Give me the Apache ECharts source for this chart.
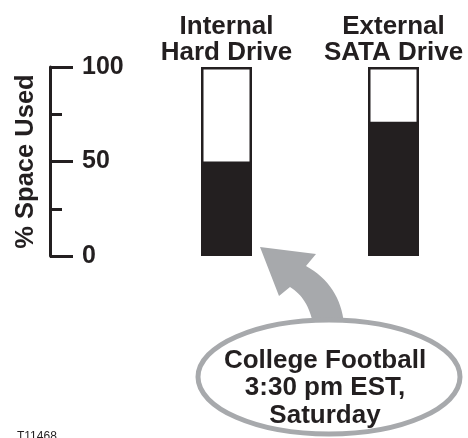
<!DOCTYPE html>
<html>
<head>
<meta charset="utf-8">
<script src="https://cdn.jsdelivr.net/npm/echarts@6/dist/echarts.min.js"></script>
<style>
html,body{margin:0;padding:0;background:#fff;}
#chart{width:468px;height:438px;}
</style>
</head>
<body>
<div id="chart"></div>
<script>
var categories = ['Internal\nHard Drive', 'External\nSATA Drive'];
var capacityPct = [100, 100];
var usedPct = [50, 71];
var axisName = '% Space Used';
var calloutText = 'College Football\n3:30 pm EST,\nSaturday';
var figureId = 'T11468';

var FONT = '"Liberation Sans", Arial, Helvetica, sans-serif';
var INK = '#231f20';
var GRAY = '#a7a9ac';

function quad(p0, c, p1, n) {
  var pts = [];
  for (var i = 1; i <= n; i++) {
    var t = i / n, u = 1 - t;
    pts.push([u * u * p0[0] + 2 * u * t * c[0] + t * t * p1[0],
              u * u * p0[1] + 2 * u * t * c[1] + t * t * p1[1]]);
  }
  return pts;
}
// curved callout arrow outline (annotation, not data)
var arrowPts = [[260, 247], [316, 254], [306, 266]]
  .concat(quad([306, 266], [340, 285], [344, 324], 16))
  .concat([[313, 324]])
  .concat(quad([313, 324], [308, 298], [290, 287], 16))
  .concat([[279, 296]]);

var chart = echarts.init(document.getElementById('chart'), null, {renderer: 'canvas'});
chart.setOption({
  animation: false,
  backgroundColor: '#fff',
  grid: {left: 226.5, top: 67, width: 167, height: 189},
  xAxis: {
    type: 'category',
    position: 'top',
    boundaryGap: false,
    data: categories,
    axisLine: {show: false},
    axisTick: {show: false},
    axisLabel: {
      interval: 0,
      margin: 1,
      color: INK,
      fontFamily: FONT,
      fontWeight: 'bold',
      fontSize: 26,
      lineHeight: 26
    }
  },
  yAxis: {
    type: 'value',
    min: 0,
    max: 100,
    interval: 50,
    offset: 176.5,
    name: axisName,
    nameLocation: 'middle',
    nameRotate: 90,
    nameGap: 11,
    nameTextStyle: {color: INK, fontFamily: FONT, fontWeight: 'bold', fontSize: 25.5},
    axisLine: {show: true, lineStyle: {color: INK, width: 3}},
    axisTick: {show: true, inside: true, length: 23, lineStyle: {color: INK, width: 3}},
    minorTick: {show: true, splitNumber: 2, length: 12, lineStyle: {color: INK, width: 3}},
    splitLine: {show: false},
    axisLabel: {
      inside: true,
      margin: 32,
      color: INK,
      fontFamily: FONT,
      fontWeight: 'bold',
      fontSize: 25
    }
  },
  series: [
    {
      type: 'bar',
      data: capacityPct,
      barWidth: 51,
      clip: false,
      z: 2,
      itemStyle: {color: '#fff', borderColor: INK, borderWidth: 2.5}
    },
    {
      type: 'bar',
      data: usedPct,
      barWidth: 51,
      barGap: '-100%',
      clip: false,
      z: 3,
      itemStyle: {color: INK, borderColor: INK, borderWidth: 2}
    }
  ],
  graphic: [
    {
      type: 'polygon',
      shape: {points: arrowPts},
      style: {fill: GRAY}
    },
    {
      type: 'ellipse',
      shape: {cx: 329, cy: 377, rx: 131, ry: 57},
      style: {fill: '#fff', stroke: GRAY, lineWidth: 5}
    },
    {
      type: 'text',
      x: 325,
      y: 388,
      style: {
        text: calloutText,
        fill: INK,
        font: 'bold 26px ' + FONT,
        lineHeight: 27.5,
        align: 'center',
        verticalAlign: 'middle'
      }
    },
    {
      type: 'text',
      x: 17,
      y: 431,
      style: {
        text: figureId,
        fill: INK,
        font: '12px ' + FONT,
        align: 'left',
        verticalAlign: 'top'
      }
    }
  ]
});
</script>
</body>
</html>
